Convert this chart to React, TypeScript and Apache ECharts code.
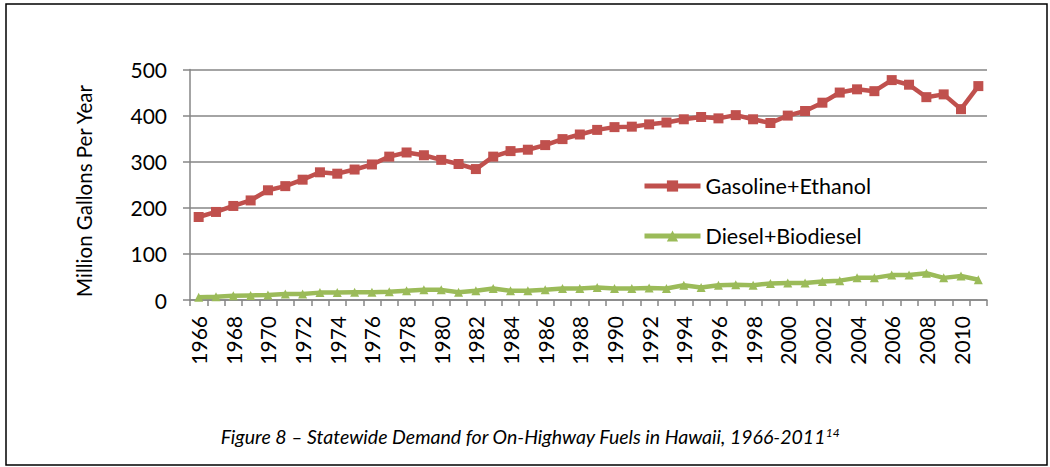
import React, { useEffect, useRef } from "react";
import * as echarts from "echarts";

const years = [
  "1966", "1967", "1968", "1969", "1970", "1971", "1972", "1973", "1974", "1975",
  "1976", "1977", "1978", "1979", "1980", "1981", "1982", "1983", "1984", "1985",
  "1986", "1987", "1988", "1989", "1990", "1991", "1992", "1993", "1994", "1995",
  "1996", "1997", "1998", "1999", "2000", "2001", "2002", "2003", "2004", "2005",
  "2006", "2007", "2008", "2009", "2010", "2011",
];

const gasolineEthanol = [
  180, 191, 204, 216, 238, 247, 261, 277, 274, 283,
  294, 311, 320, 314, 304, 295, 284, 311, 323, 326,
  336, 349, 359, 369, 375, 376, 381, 385, 392, 397,
  394, 401, 392, 384, 400, 410, 428, 450, 457, 453,
  477, 467, 440, 446, 414, 464,
];

const dieselBiodiesel = [
  6, 7, 9, 10, 11, 13, 13, 16, 16, 17,
  17, 18, 20, 22, 22, 17, 20, 25, 20, 20,
  22, 25, 25, 27, 25, 25, 26, 25, 32, 27,
  32, 33, 32, 36, 37, 37, 40, 42, 48, 48,
  54, 54, 58, 48, 52, 44,
];

const yTicks = { min: 0, max: 500, interval: 100 };

const FONT = "Lato, 'Open Sans', sans-serif";
const GRID_COLOR = "#868686";

export default function App() {
  const ref = useRef<HTMLDivElement>(null);

  useEffect(() => {
    if (!ref.current) return;
    const chart = echarts.init(ref.current, undefined, { renderer: "svg" });
    const legendBase = {
      left: 642,
      padding: 0,
      itemGap: 5,
      itemWidth: 56,
      itemHeight: 14,
      lineStyle: { width: 5 },
      textStyle: { fontSize: 21.5, color: "#000", fontFamily: FONT },
    };
    chart.setOption({
      animation: false,
      backgroundColor: "#ffffff",
      textStyle: { fontFamily: FONT },
      grid: { left: 190, right: 63, top: 69.5, bottom: 167, containLabel: false },
      legend: [
        { ...legendBase, data: ["Gasoline+Ethanol"], top: 175 },
        { ...legendBase, data: ["Diesel+Biodiesel"], top: 225 },
      ],
      xAxis: {
        type: "category",
        data: years,
        boundaryGap: true,
        axisLine: { show: true, lineStyle: { color: GRID_COLOR, width: 1.5 } },
        axisTick: { show: true, interval: 0, length: 6, lineStyle: { color: GRID_COLOR, width: 1.5 } },
        axisLabel: {
          interval: 1,
          rotate: 90,
          margin: 16,
          fontSize: 21,
          color: "#000",
          fontFamily: FONT,
        },
        splitLine: { show: false },
      },
      yAxis: {
        type: "value",
        min: yTicks.min,
        max: yTicks.max,
        interval: yTicks.interval,
        axisLine: { show: true, lineStyle: { color: GRID_COLOR, width: 1.5 } },
        axisTick: { show: true, length: 7, lineStyle: { color: GRID_COLOR, width: 1.5 } },
        axisLabel: { margin: 23, fontSize: 21, color: "#000", fontFamily: FONT },
        splitLine: { show: true, lineStyle: { color: GRID_COLOR, width: 1.5 } },
      },
      series: [
        {
          name: "Gasoline+Ethanol",
          type: "line",
          data: gasolineEthanol,
          symbol: "rect",
          symbolSize: 10,
          color: "#C0504D",
          lineStyle: { width: 4.5, color: "#C0504D" },
          itemStyle: { color: "#C0504D" },
        },
        {
          name: "Diesel+Biodiesel",
          type: "line",
          data: dieselBiodiesel,
          symbol: "triangle",
          symbolSize: 9,
          color: "#9BBB59",
          lineStyle: { width: 4.5, color: "#9BBB59" },
          itemStyle: { color: "#9BBB59" },
        },
      ],
      graphic: [
        {
          type: "rect",
          shape: { x: 6, y: 4, width: 1041, height: 461 },
          style: { fill: "none", stroke: "#000", lineWidth: 1.5 },
          silent: true,
        },
        {
          type: "text",
          x: 84,
          y: 191,
          rotation: Math.PI / 2,
          style: {
            text: "Million Gallons Per Year",
            align: "center",
            verticalAlign: "middle",
            fontSize: 20.5,
            fontFamily: FONT,
            fill: "#000",
          },
          silent: true,
        },
        {
          type: "text",
          x: 530,
          y: 436,
          style: {
            text: "{a|Figure 8 – Statewide Demand for On-Highway Fuels in Hawaii, 1966-2011}{s|14}",
            align: "center",
            verticalAlign: "middle",
            rich: {
              a: { fontSize: 19.5, fontStyle: "italic", fontWeight: "normal", fontFamily: FONT, fill: "#000", color: "#000" },
              s: { fontSize: 12, fontStyle: "italic", fontWeight: "normal", fontFamily: FONT, fill: "#000", color: "#000", verticalAlign: "top" },
            },
          },
          silent: true,
        },
      ],
    });
    return () => chart.dispose();
  }, []);

  return (
    <div
      ref={ref}
      style={{ position: "fixed", left: 0, top: 0, width: 1050, height: 467 }}
    />
  );
}
